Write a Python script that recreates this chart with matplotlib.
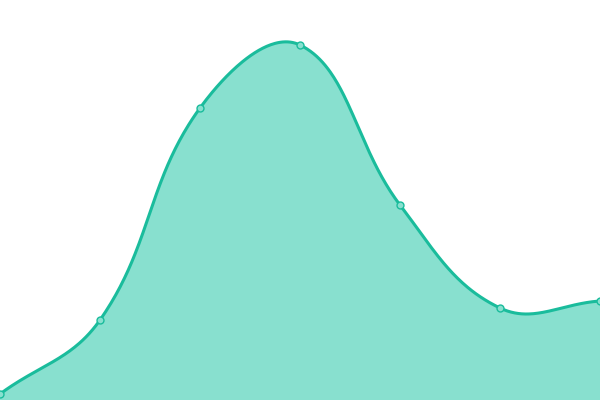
import numpy as np
import matplotlib
matplotlib.use("Agg")
import matplotlib.pyplot as plt

# data
xs = [0, 1, 2, 3, 4, 5, 6]
vals = [6, 80, 292, 355, 195, 92, 99]

line_color = "#1abc9c"
fill_color = "#88e0cf"

X_PX = 100.0  # pixels per x unit, used so the spline is built in screen space


def spline(x, y, tension=0.4, n=80):
    # bezier spline in the style of chart.js line tension
    p = np.column_stack([np.asarray(x, float) * X_PX, np.asarray(y, float)])
    m = len(p)
    cp_prev = p.copy()
    cp_next = p.copy()
    for i in range(m):
        prev = p[max(i - 1, 0)]
        nxt = p[min(i + 1, m - 1)]
        d01 = np.hypot(*(p[i] - prev))
        d12 = np.hypot(*(nxt - p[i]))
        tot = d01 + d12
        s01 = d01 / tot if tot else 0
        s12 = d12 / tot if tot else 0
        cp_prev[i] = p[i] - tension * s01 * (nxt - prev)
        cp_next[i] = p[i] + tension * s12 * (nxt - prev)
    out = []
    t = np.linspace(0, 1, n)[:, None]
    for i in range(m - 1):
        a, b, c, d = p[i], cp_next[i], cp_prev[i + 1], p[i + 1]
        out.append((1 - t)**3 * a + 3 * (1 - t)**2 * t * b + 3 * (1 - t) * t**2 * c + t**3 * d)
    out = np.vstack(out)
    return out[:, 0] / X_PX, out[:, 1]


sx, sy = spline(xs, vals)

fig = plt.figure(figsize=(6, 4), dpi=100)
ax = fig.add_axes([0, 0, 1, 1])
ax.fill_between(sx, sy, 0, color=fill_color, linewidth=0)
ax.plot(sx, sy, color=line_color, linewidth=2.2, solid_capstyle="round")
ax.plot(xs, vals, linestyle="none", marker="o", markersize=5,
        markerfacecolor=fill_color, markeredgecolor=line_color, markeredgewidth=1)
ax.set_xlim(0, 6)
ax.set_ylim(0, 400)
ax.axis("off")
fig.savefig("out.png", dpi=100)
